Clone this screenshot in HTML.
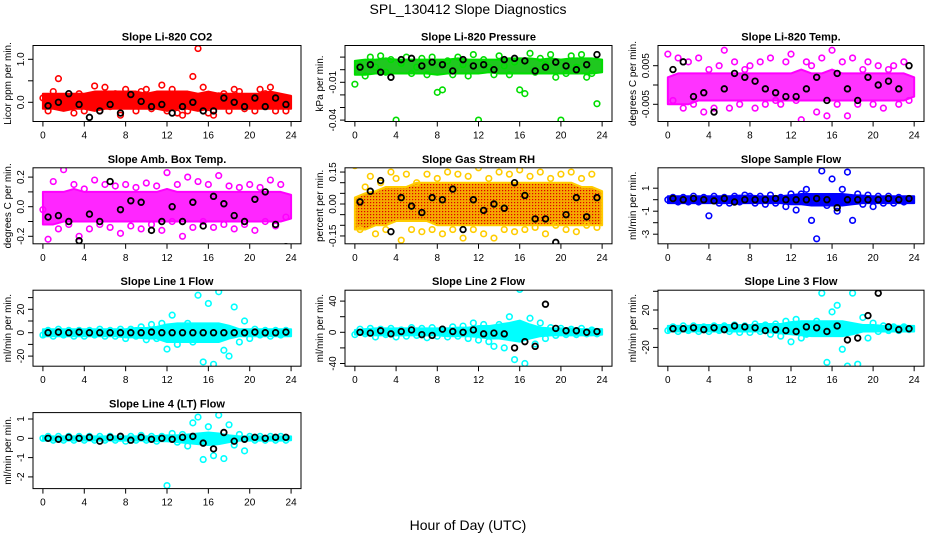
<!DOCTYPE html>
<html><head><meta charset="utf-8">
<style>
body{margin:0;background:#fff;}
svg{display:block;font-family:"Liberation Sans",sans-serif;}
</style></head>
<body>
<svg id="chart" width="936" height="540" viewBox="0 0 936 540">
<defs>
<pattern id="rhPat" width="3" height="3" patternUnits="userSpaceOnUse">
<rect width="3" height="3" fill="#f5a800"/><rect x="1" y="1" width="1.2" height="1.2" fill="#e00000"/>
</pattern>
</defs>
<text x="468" y="14" text-anchor="middle" font-size="14">SPL_130412  Slope Diagnostics</text>
<text x="468" y="530" text-anchor="middle" font-size="14">Hour of Day (UTC)</text>
</svg>
<script>
const hourTicks = [0,4,8,12,16,20,24];

const co2Low = [-0.15,-0.15,-0.2,-0.15,-0.15,-0.2,-0.15,-0.15,-0.15,-0.15,-0.15,-0.15,-0.2,-0.15,-0.15,-0.2,-0.15,-0.15,-0.15,-0.15,-0.15,-0.15,-0.15,-0.15,-0.15];
const co2High = [0.2,0.2,0.2,0.2,0.2,0.25,0.25,0.25,0.25,0.25,0.2,0.25,0.25,0.25,0.25,0.2,0.25,0.2,0.2,0.2,0.2,0.2,0.25,0.2,0.15];
const co2Vals = [0.1,-0.2,0.25,0.55,-0.1,0.1,-0.25,0.2,-0.2,0.05,0.38,-0.2,0.35,-0.1,0.2,-0.3,0.3,0.1,-0.2,0.25,0.3,-0.15,0.15,0.4,-0.2,0.3,-0.25,-0.3,-0.2,0.6,1.25,0.35,-0.25,-0.3,0.15,0.2,-0.2,0.3,0.25,-0.15,0.1,-0.2,0.3,0.2,0.35,-0.2,0.1,-0.2];
const co2Black = [-0.08,0.0,0.2,-0.05,-0.35,-0.2,-0.05,-0.25,0.18,0.02,-0.1,-0.05,-0.25,-0.1,0.0,-0.2,-0.2,0.1,0.0,-0.1,0.1,-0.1,0.1,-0.05];

const presLow = [-0.004,-0.004,-0.003,-0.003,-0.003,-0.003,-0.003,-0.003,-0.004,-0.003,-0.003,-0.003,-0.003,-0.002,-0.003,-0.003,-0.003,-0.003,-0.003,-0.003,-0.003,-0.003,-0.003,-0.003,-0.002];
const presHigh = [0.007,0.008,0.008,0.009,0.008,0.008,0.008,0.008,0.008,0.008,0.009,0.008,0.008,0.008,0.008,0.009,0.009,0.009,0.008,0.009,0.008,0.009,0.009,0.009,0.008];
const presVals = [-0.0115,0.003,-0.005,0.01,0.002,0.011,-0.002,0.008,-0.04,0.005,0.01,-0.003,0.002,0.009,-0.004,0.01,-0.018,-0.016,0.007,-0.004,0.01,0.004,-0.005,0.012,-0.04,0.008,0.002,-0.004,0.011,0.003,-0.004,0.006,-0.016,-0.019,0.013,-0.002,0.009,0.004,0.012,-0.006,-0.04,-0.003,0.011,0.002,0.012,-0.006,-0.003,-0.027];
const presBlack = [0.002,0.004,-0.002,-0.006,0.008,0.009,0.003,0.006,0.004,-0.001,0.008,0.003,0.004,0.0,0.008,0.009,0.007,-0.001,0.002,0.006,0.003,0.0,0.004,0.012];

const tempLow = [-0.005,-0.005,-0.005,-0.004,-0.004,-0.004,-0.004,-0.004,-0.004,-0.004,-0.004,-0.004,-0.004,-0.004,-0.004,-0.004,-0.004,-0.004,-0.004,-0.004,-0.004,-0.004,-0.004,-0.004,-0.003];
const tempHigh = [0.002,0.003,0.003,0.003,0.003,0.003,0.003,0.003,0.003,0.003,0.003,0.003,0.003,0.004,0.003,0.003,0.004,0.003,0.003,0.003,0.003,0.003,0.003,0.003,0.002];
const tempVals = [0.008,-0.004,0.007,-0.006,0.006,-0.005,0.007,-0.007,0.004,-0.006,0.005,0.009,-0.006,0.006,-0.005,0.004,0.005,-0.006,0.006,-0.005,0.007,-0.004,-0.005,0.006,0.008,-0.004,-0.009,0.006,0.005,-0.007,0.007,-0.008,0.009,-0.005,0.006,-0.008,0.007,-0.005,0.004,0.006,-0.005,0.005,-0.006,0.004,0.005,-0.005,0.006,-0.004];
const tempBlack = [0.004,0.006,-0.003,-0.002,-0.007,-0.001,0.003,0.002,0.001,-0.001,-0.002,-0.003,-0.003,-0.001,0.002,-0.004,0.003,-0.001,-0.004,0.002,0.0,0.001,-0.001,0.005];

const boxLow = [-0.12,-0.12,-0.1,-0.1,-0.1,-0.1,-0.1,-0.1,-0.1,-0.1,-0.1,-0.1,-0.1,-0.1,-0.1,-0.1,-0.1,-0.1,-0.1,-0.1,-0.1,-0.1,-0.1,-0.1,-0.08];
const boxHigh = [0.1,0.1,0.1,0.12,0.1,0.1,0.1,0.1,0.1,0.1,0.1,0.1,0.12,0.1,0.1,0.1,0.1,0.1,0.1,0.1,0.1,0.1,0.1,0.1,0.08];
const boxVals = [-0.02,-0.22,0.17,-0.15,0.25,-0.12,0.15,-0.2,0.12,-0.15,0.18,-0.12,0.15,-0.14,0.14,-0.18,0.15,-0.13,0.13,-0.15,0.16,-0.12,0.14,-0.16,0.23,-0.1,0.15,-0.2,0.2,-0.14,0.17,-0.1,0.15,-0.14,0.21,-0.12,0.14,-0.15,0.13,-0.12,0.15,-0.16,0.13,-0.1,0.18,-0.13,0.15,-0.07];
const boxBlack = [-0.07,-0.06,-0.1,-0.23,-0.05,-0.1,0.17,-0.02,0.04,0.03,-0.16,-0.1,0.0,-0.1,0.03,-0.13,0.07,0.02,-0.06,-0.1,0.05,0.1,-0.12,-0.27];

const rhLow = [-0.12,-0.12,-0.1,-0.1,-0.08,-0.08,-0.08,-0.08,-0.1,-0.1,-0.1,-0.1,-0.1,-0.1,-0.1,-0.1,-0.1,-0.1,-0.1,-0.1,-0.1,-0.1,-0.1,-0.1,-0.1];
const rhHigh = [0.03,0.05,0.06,0.08,0.08,0.08,0.1,0.1,0.1,0.1,0.1,0.1,0.1,0.1,0.1,0.1,0.1,0.1,0.1,0.1,0.1,0.1,0.08,0.08,0.06];
const rhVals = [0.18,-0.12,0.08,0.13,-0.14,0.1,-0.12,0.15,0.12,-0.17,0.14,-0.12,0.1,-0.13,0.14,-0.12,0.12,-0.14,0.15,-0.12,0.14,-0.16,0.13,-0.12,0.17,-0.14,0.12,-0.16,0.15,-0.12,0.14,-0.13,0.16,-0.12,0.13,-0.11,0.15,-0.14,0.12,-0.1,0.14,-0.12,0.15,-0.13,0.12,-0.1,0.14,-0.11];
const rhBlack = [0.01,0.06,0.11,-0.13,0.03,-0.01,-0.04,0.03,0.02,0.07,-0.12,0.02,-0.03,0.0,-0.02,0.1,0.04,-0.07,-0.07,-0.18,-0.05,0.03,-0.06,0.03];

const sfLow = [-0.3,-0.3,-0.3,-0.3,-0.3,-0.3,-0.3,-0.3,-0.3,-0.3,-0.3,-0.3,-0.4,-0.4,-0.5,-0.5,-0.5,-0.5,-0.4,-0.3,-0.3,-0.3,-0.3,-0.3,-0.3];
const sfHigh = [0.3,0.3,0.3,0.3,0.3,0.3,0.3,0.35,0.35,0.3,0.3,0.3,0.4,0.5,0.5,0.5,0.5,0.5,0.4,0.35,0.3,0.3,0.3,0.3,0.3];
const sfVals = [0.0,0.2,-0.2,0.2,-0.2,0.3,-0.2,0.2,-1.4,0.3,-0.3,0.2,-0.3,0.3,-0.2,0.4,0.3,-0.3,0.3,-0.4,0.4,-0.3,0.2,-0.6,0.5,-0.9,0.5,0.9,-1.8,-3.4,2.5,-0.5,1.8,-1.0,0.9,2.4,-1.8,0.5,-0.4,0.4,-0.6,0.3,-0.3,0.3,-0.3,0.2,-0.2,0.1];
const sfBlack = [0.1,0.0,0.1,0.0,-0.1,0.1,-0.2,0.0,0.0,0.0,0.1,0.0,0.0,0.0,0.1,0.0,-0.7,0.0,0.0,0.0,0.0,0.1,0.0,0.1];

const l1Low = [-3,-3,-3,-3,-3,-3,-3,-3,-4,-4,-5,-5,-8,-8,-8,-8,-8,-8,-5,-3,-3,-3,-3,-3,-3];
const l1High = [3,3,3,3,3,3,3,3,3,4,4,5,7,8,8,8,8,8,6,3,3,3,3,3,3];
const l1Vals = [-2,2,-3,3,-2,2,-3,2,-3,2,-2,3,-3,2,-3,3,-5,3,-3,5,-6,7,-5,8,-14,15,-10,5,8,-8,32,-25,25,-27,35,-15,-20,22,-8,10,-5,3,-2,2,-3,2,-2,2];
const l1Black = [0,0.5,0,0.5,0,0,0,0,0,0,0.5,0,0,0,0,0,0,0,0,0,0.5,0,0,0.5];

const l2Low = [-3,-3,-4,-4,-4,-4,-4,-4,-4,-5,-5,-5,-6,-8,-8,-10,-12,-8,-5,-4,-4,-4,-4,-4,-3];
const l2High = [3,4,5,5,5,5,5,5,5,5,6,6,8,8,10,12,15,10,6,5,5,5,4,4,4];
const l2Vals = [-3,4,-2,5,-6,4,-3,5,-6,3,-5,6,-4,5,-7,6,-5,4,-6,7,-5,8,-8,12,-10,10,-12,-18,10,-20,20,-35,55,-40,18,-15,12,-8,6,-4,5,-3,4,-3,5,-2,3,-2];
const l2Black = [0,-1,2,-2,1,3,-3,-4,4,1,0,3,-2,-1,-2,-20,-12,-18,36,5,2,2,0,1];

const l3Low = [-3,-3,-3,-3,-3,-3,-3,-3,-3,-3,-4,-5,-6,-7,-8,-8,-8,-8,-6,-3,-3,-3,-3,-3,-3];
const l3High = [3,3,3,4,4,4,4,4,4,5,5,5,7,8,8,8,8,8,6,4,4,3,3,3,3];
const l3Vals = [-2,2,-3,3,-2,3,-3,2,-3,3,-2,3,-3,4,-4,3,-4,5,-3,4,-6,5,-8,8,-14,10,-10,-6,-5,8,38,-36,18,25,-22,-40,38,-38,12,-10,6,-3,3,-2,2,-2,2,-1];
const l3Black = [0,0,1,-1,1,-1,3,2,1,-2,-1,-2,-3,2,1,-3,3,-12,-10,14,38,2,-1,0];

const l4Low = [-0.12,-0.12,-0.12,-0.12,-0.12,-0.12,-0.12,-0.12,-0.12,-0.12,-0.12,-0.15,-0.15,-0.2,-0.25,-0.3,-0.35,-0.3,-0.2,-0.12,-0.12,-0.12,-0.12,-0.12,-0.1];
const l4High = [0.1,0.1,0.1,0.1,0.1,0.1,0.1,0.1,0.1,0.1,0.1,0.12,0.15,0.15,0.2,0.25,0.3,0.25,0.15,0.1,0.1,0.1,0.1,0.1,0.1];
const l4Vals = [0,0.1,-0.1,0.1,-0.1,0.1,-0.1,0.1,-0.1,0.1,-0.1,0.1,-0.1,0.1,-0.1,0.1,-0.15,0.1,-0.1,0.15,-0.1,0.1,-0.15,0.1,-2.45,0.25,-0.2,0.2,-0.4,0.8,1.1,-1.1,0.6,-0.9,1.2,-1.05,0.7,-0.35,0.2,-0.65,0.1,-0.1,0.1,-0.1,0.1,-0.1,0.1,-0.1];
const l4Black = [0,-0.05,0.05,0,0.05,-0.15,0.05,0.1,-0.1,0.05,-0.05,0.0,-0.05,0.05,0.1,-0.25,-0.55,0.3,-0.15,-0.05,0.05,0,0.05,0.05];

const co2Ticks=[0,0.5,1.0], co2Labels=["0.0","","1.0"];
const presTicks=[-0.04,-0.03,-0.02,-0.01,0.0,0.01], presLabels=["-0.04","","","-0.01","",""];
const tempTicks=[-0.005,0,0.005], tempLabels=["-0.005","","0.005"];
const boxTicks=[-0.2,-0.1,0,0.1,0.2], boxLabels=["-0.2","","0.0","","0.2"];
const rhTicks=[-0.15,-0.1,-0.05,0,0.05,0.1,0.15], rhLabels=["-0.15","","","0.00","","","0.15"];
const sfTicks=[-3,-2,-1,0,1], sfLabels=["-3","","-1","","1"];
const l1Ticks=[-20,-10,0,10,20,30], l1Labels=["-20","","0","","20",""];
const l2Ticks=[-40,-20,0,20,40], l2Labels=["-40","","0","","40"];
const l3Ticks=[-20,0,20,40], l3Labels=["-20","","20",""];
const l4Ticks=[-2,-1,0,1], l4Labels=["-2","-1","0","1"];

const NS="http://www.w3.org/2000/svg";
const svg=document.getElementById('chart');
function mk(tag,attrs,parent){const e=document.createElementNS(NS,tag);for(const k in attrs)e.setAttribute(k,attrs[k]);(parent||svg).appendChild(e);return e;}

const colX=[[33,301],[345,612],[658,924]];
const rowY=[45.5,167.8,290.2,412.6];
const BH=76;

const panels=[
 {key:'co2',title:'Slope Li-820 CO2',ylab:'Licor ppm per min.',c:0,r:0,y0:0,py0:102.3,ppu:43,low:co2Low,high:co2High,vals:co2Vals,blk:co2Black,ticks:co2Ticks,labels:co2Labels,col:'#ff0000',band:'#ff0000',op:1},
 {key:'pres',title:'Slope Li-820 Pressure',ylab:'kPa per min.',c:1,r:0,y0:-0.01,py0:82.3,ppu:1260,low:presLow,high:presHigh,vals:presVals,blk:presBlack,ticks:presTicks,labels:presLabels,col:'#00dd00',band:'#1fc81f',op:1},
 {key:'temp',title:'Slope Li-820 Temp.',ylab:'degrees C per min.',c:2,r:0,y0:0,py0:85,ppu:3860,low:tempLow,high:tempHigh,vals:tempVals,blk:tempBlack,ticks:tempTicks,labels:tempLabels,col:'#ff00ff',band:'#ff00ff',op:0.8},
 {key:'box',title:'Slope Amb. Box Temp.',ylab:'degrees C per min.',c:0,r:1,y0:0,py0:206.7,ppu:148,low:boxLow,high:boxHigh,vals:boxVals,blk:boxBlack,ticks:boxTicks,labels:boxLabels,col:'#ff00ff',band:'#ff00ff',op:0.85},
 {key:'rh',title:'Slope Gas Stream RH',ylab:'percent per min.',c:1,r:1,y0:0,py0:204,ppu:213,low:rhLow,high:rhHigh,vals:rhVals,blk:rhBlack,ticks:rhTicks,labels:rhLabels,col:'#ffcc00',band:'url(#rhPat)',op:1},
 {key:'sf',title:'Slope Sample Flow',ylab:'ml/min per min.',c:2,r:1,y0:0,py0:199.7,ppu:11.5,low:sfLow,high:sfHigh,vals:sfVals,blk:sfBlack,ticks:sfTicks,labels:sfLabels,col:'#0000ff',band:'#0000ff',op:1},
 {key:'l1',title:'Slope Line 1 Flow',ylab:'ml/min per min.',c:0,r:2,y0:0,py0:332.7,ppu:1.17,low:l1Low,high:l1High,vals:l1Vals,blk:l1Black,ticks:l1Ticks,labels:l1Labels,col:'#00ffff',band:'#00ffff',op:1},
 {key:'l2',title:'Slope Line 2 Flow',ylab:'ml/min per min.',c:1,r:2,y0:0,py0:332.3,ppu:0.78,low:l2Low,high:l2High,vals:l2Vals,blk:l2Black,ticks:l2Ticks,labels:l2Labels,col:'#00ffff',band:'#00ffff',op:1},
 {key:'l3',title:'Slope Line 3 Flow',ylab:'ml/min per min.',c:2,r:2,y0:0,py0:328.7,ppu:0.935,low:l3Low,high:l3High,vals:l3Vals,blk:l3Black,ticks:l3Ticks,labels:l3Labels,col:'#00ffff',band:'#00ffff',op:1},
 {key:'l4',title:'Slope Line 4 (LT) Flow',ylab:'ml/min per min.',c:0,r:3,y0:0,py0:438.3,ppu:19.3,low:l4Low,high:l4High,vals:l4Vals,blk:l4Black,ticks:l4Ticks,labels:l4Labels,col:'#00ffff',band:'#00ffff',op:1}
];

panels.forEach(p=>{
  const [L,R]=colX[p.c]; const T=rowY[p.r]; const B=T+BH;
  const span=R-L;
  const x0=L+span*0.037, x1=R-span*0.037;
  const xs=h=>x0+(h/24)*(x1-x0);
  const ys=v=>p.py0-(v-p.y0)*p.ppu;
  const g=mk('g',{});
  
  
  const clipId='clip-'+p.key;
  const cp=mk('clipPath',{id:clipId},g); mk('rect',{x:L,y:T,width:span,height:BH},cp);
  const t=mk('text',{x:(L+R)/2,y:T-5,'text-anchor':'middle','font-size':'11','font-weight':'bold'},g);
  t.textContent=p.title;
  
  
  const data=mk('g',{'clip-path':'url(#'+clipId+')'},g);
  
  
  let pts=[];
  p.high.forEach((v,i)=>pts.push(xs(i)+','+ys(v)));
  for(let i=p.low.length-1;i>=0;i--)pts.push(xs(i)+','+ys(p.low[i]));
  const band=mk('polygon',{points:pts.join(' '),fill:p.band,'fill-opacity':p.op,stroke:p.col,'stroke-width':2,'stroke-linejoin':'round'},data);
  
  
  p.vals.forEach((v,i)=>{
    const c=mk('circle',{cx:xs(i*0.5),cy:ys(v),r:2.8,fill:'none',stroke:p.col,'stroke-width':1.6},data);
    
    
  });
  p.blk.forEach((v,i)=>{
    const c=mk('circle',{cx:xs(i+0.5),cy:ys(v),r:2.8,fill:'none',stroke:'#000','stroke-width':1.8},data);
    
    
  });
  const box=mk('rect',{x:L,y:T,width:span,height:BH,fill:'none',stroke:'#000','stroke-width':1},g);
  
  
  hourTicks.forEach(h=>{
    mk('line',{x1:xs(h),x2:xs(h),y1:B,y2:B+5,stroke:'#000'},g);
    const tl=mk('text',{x:xs(h),y:B+17,'text-anchor':'middle','font-size':'10'},g);
    tl.textContent=h;
    
    
  });
  p.ticks.forEach((v,i)=>{
    const y=ys(v); if(y<T-1||y>B+1)return;
    mk('line',{x1:L,x2:L-5,y1:y,y2:y,stroke:'#000'},g);
    if(p.labels[i]){
      const tl=mk('text',{x:0,y:0,'text-anchor':'middle','font-size':'10',transform:'translate('+(L-9)+','+y+') rotate(-90)'},g);
      tl.textContent=p.labels[i];
      
      
    }
  });
  const yl=mk('text',{x:0,y:0,'text-anchor':'middle','font-size':'10',transform:'translate('+(L-22)+','+(T+BH/2)+') rotate(-90)'},g);
  yl.textContent=p.ylab;
  
  
});
</script>
</body></html>
